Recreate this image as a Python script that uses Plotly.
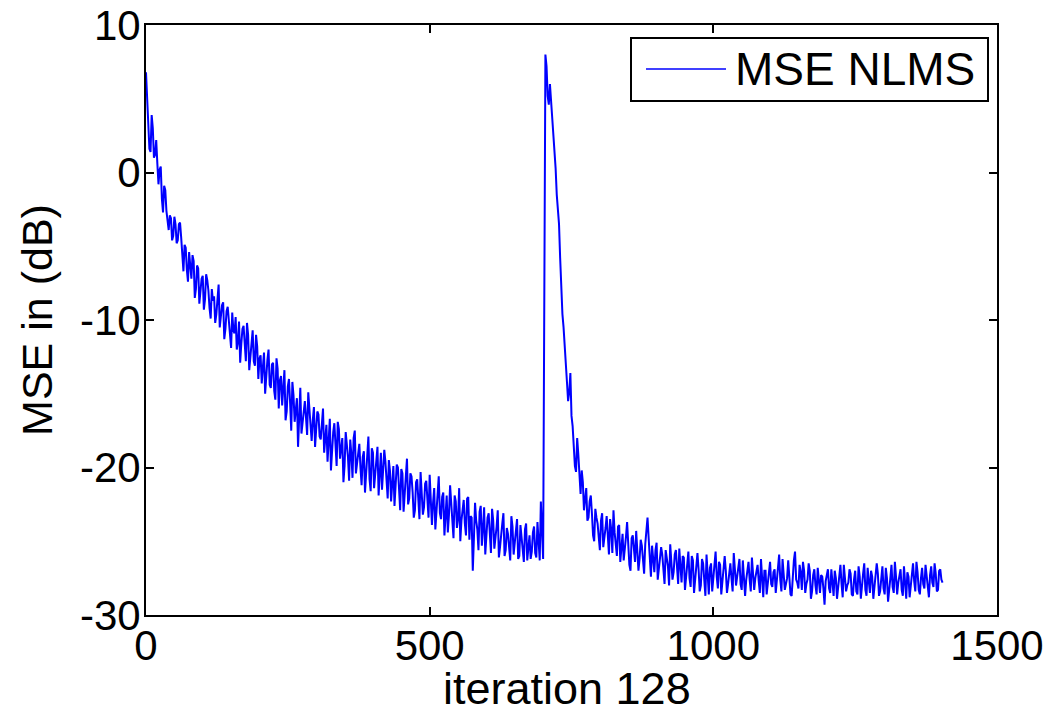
import plotly.graph_objects as go

# MSE (dB), first adaptation run: samples at iterations 0, 4, 8, ...
seg1_start = 0
seg1_mse = [
    6.8, 3.8, 1.4, 3.0, 1.2, 0.6, 0.2, -1.8, -0.9, -2.6,
    -3.9, -3.1, -4.3, -3.5, -4.6, -3.4, -5.8, -4.9, -6.6, -5.4,
    -7.2, -6.0, -7.9, -6.5, -8.1, -7.0, -8.6, -7.3, -9.2, -7.9,
    -8.4, -9.6, -7.6, -9.9, -8.8, -10.6, -9.1, -11.2, -9.5, -10.9,
    -12.0, -10.1, -11.6, -10.4, -12.8, -11.0, -12.3, -10.7, -13.1, -11.8,
    -12.6, -14.3, -12.2, -13.5, -12.0, -14.6, -12.9, -15.4, -13.3, -14.1,
    -15.8, -13.4, -16.2, -14.0, -17.5, -15.1, -16.0, -18.6, -14.6, -16.9,
    -15.5, -17.8, -16.1, -18.2, -15.9, -17.3, -16.4, -18.1, -16.0, -17.6,
    -19.6, -16.7, -18.4, -17.0, -19.9, -17.4, -18.8, -21.0, -17.6, -19.3,
    -18.1, -20.7, -17.5, -19.6, -18.4, -21.2, -18.9, -20.3, -17.9, -21.6,
    -19.0, -20.6, -18.6, -20.1, -21.5, -18.8, -20.9, -19.5, -22.3, -19.9,
    -21.3, -20.0, -22.9, -20.4, -21.8, -19.4, -22.1, -20.6, -23.4, -21.0,
    -22.4, -20.3, -23.2, -21.1, -22.0, -20.5, -23.9, -21.4, -22.8, -20.6,
    -23.5, -21.7, -22.6, -24.4, -21.2, -23.0, -21.9, -24.1, -21.4, -23.6,
    -22.2, -24.6, -22.0, -23.3, -27.0, -22.4, -24.2, -23.0, -25.3, -22.7,
    -24.5, -23.1, -25.8, -23.6, -24.9, -22.9, -25.4, -23.8, -26.0, -24.1,
    -25.2, -23.3, -25.9, -24.4, -26.2, -23.9, -25.5, -24.2, -26.3, -24.6,
    -25.7, -24.0, -26.1, -24.8, -22.3, -26.2,
]
# first run, in-between samples at iterations 2, 6, 10, ...
seg1_mid_start = 2
seg1_mid_mse = [
    5.0, 1.6, 3.9, 1.0, 2.2, -0.8, 0.4, -2.7, -1.2, -3.5,
    -2.9, -4.6, -3.0, -4.8, -3.5, -4.4, -6.7, -5.1, -7.4, -6.1,
    -5.6, -8.5, -6.3, -8.9, -7.2, -9.3, -6.9, -8.0, -9.9, -8.7,
    -10.2, -8.3, -10.5, -9.0, -11.3, -9.4, -10.0, -11.9, -10.7, -9.8,
    -11.5, -12.9, -10.6, -11.9, -10.2, -13.4, -11.6, -12.8, -11.0, -14.0,
    -12.4, -13.2, -15.0, -12.7, -14.4, -13.0, -14.8, -12.6, -16.0, -13.8,
    -14.9, -16.8, -14.5, -15.6, -14.2, -16.9, -15.3, -16.5, -17.7, -15.8,
    -16.6, -14.9, -17.5, -16.8, -18.6, -16.2, -17.9, -17.0, -19.0, -17.1,
    -18.2, -20.2, -17.6, -18.6, -16.9, -19.4, -18.0, -19.9, -18.3, -20.9,
    -19.1, -18.0, -20.4, -18.9, -20.0, -19.3, -21.7, -19.5, -20.8, -18.7,
    -21.4, -19.8, -21.9, -19.0, -20.3, -19.6, -22.1, -20.2, -20.8, -22.6,
    -19.8, -21.6, -20.1, -23.0, -21.2, -22.5, -20.4, -21.7, -22.9, -20.8,
    -23.5, -21.6, -22.7, -20.9, -23.4, -21.8, -22.4, -24.2, -21.5, -23.1,
    -22.0, -24.6, -21.9, -23.2, -22.5, -24.8, -22.3, -23.5, -25.0, -22.6,
    -23.8, -22.1, -24.9, -23.4, -24.8, -23.6, -25.6, -22.6, -24.1, -25.9,
    -23.4, -24.7, -22.8, -25.5, -24.0, -26.1, -24.3, -23.1, -25.6, -24.5,
    -26.3, -24.0, -25.1, -23.5, -26.0, -24.7, -26.4, -23.8, -25.3, -26.2,
    -24.4, -25.8, -23.7, -26.3, -24.5,
]

# MSE (dB) after the system change: samples at iterations 704, 708, ...
seg2_start = 704
seg2_mse = [
    8.0, 5.2, 6.0, 3.9, 1.0, -1.5, -3.5, -8.4, -10.5, -12.8,
    -15.5, -13.6, -17.2, -19.9, -18.0, -21.1, -20.2, -22.9, -21.4, -23.4,
    -21.9, -24.6, -22.8, -23.8, -25.6, -23.1, -24.9, -23.3, -25.9, -24.2,
    -22.9, -25.3, -24.0, -26.4, -24.5, -25.6, -23.7, -26.6, -24.8, -25.9,
    -24.3, -27.0, -24.9, -26.1, -25.2, -23.4, -26.5, -25.3, -27.1, -25.1,
    -26.8, -25.4, -27.3, -25.6, -26.7, -25.2, -27.6, -25.9, -26.9, -25.5,
    -27.8, -26.1, -27.2, -25.7, -28.1, -26.3, -27.4, -25.8, -28.4, -26.2,
    -27.6, -25.9, -28.6, -26.5, -27.3, -25.7, -28.2, -26.6, -27.8, -26.0,
    -28.5, -26.9, -27.5, -25.8, -28.0, -26.7, -27.9, -26.3, -28.7, -26.8,
    -27.6, -26.1, -28.3, -26.9, -27.7, -26.2, -28.8, -27.0, -27.8, -26.4,
    -28.1, -26.9, -27.5, -25.9, -28.4, -27.1, -27.9, -26.3, -28.6, -27.2,
    -25.7, -27.8, -26.6, -28.3, -27.0, -27.9, -26.5, -28.9, -27.3, -28.0,
    -26.8, -28.5, -27.4, -29.3, -27.1, -28.2, -26.9, -28.7, -27.5, -28.1,
    -26.6, -28.8, -27.3, -28.0, -26.9, -28.6, -27.6, -28.4, -26.7, -28.9,
    -27.2, -28.3, -26.8, -28.5, -27.4, -28.0, -26.5, -28.7, -27.3, -28.2,
    -26.8, -29.1, -27.5, -28.1, -26.4, -28.6, -27.2, -28.3, -26.7, -28.9,
    -27.4, -27.9, -26.5, -28.4, -27.1, -28.6, -26.8, -28.2, -27.3, -28.8,
    -26.7, -28.1, -27.2, -28.3, -26.9, -27.8,
]
# second run, in-between samples at iterations 706, 710, ...
seg2_mid_start = 706
seg2_mid_mse = [
    7.2, 4.6, 4.9, 2.4, 0.3, -2.6, -5.8, -9.6, -12.0, -14.2,
    -14.9, -16.5, -18.4, -20.3, -19.1, -21.8, -21.0, -22.1, -23.6, -22.3,
    -23.1, -25.0, -23.4, -24.7, -23.6, -25.4, -24.1, -24.6, -23.5, -25.8,
    -24.4, -26.0, -23.9, -25.2, -26.3, -24.7, -25.7, -27.0, -24.6, -26.4,
    -25.5, -26.2, -25.3, -27.2, -24.5, -24.8, -27.4, -26.0, -25.6, -27.6,
    -26.2, -25.9, -27.9, -26.3, -28.0, -26.4, -27.1, -25.6, -27.9, -26.8,
    -26.0, -28.3, -26.6, -27.5, -26.0, -28.5, -27.0, -26.9, -28.0, -26.5,
    -28.7, -27.1, -26.8, -28.4, -26.9, -27.4, -26.4, -28.6, -27.2, -27.0,
    -27.9, -26.5, -28.4, -27.0, -27.4, -26.2, -28.3, -27.3, -27.6, -26.4,
    -28.4, -27.0, -27.5, -26.6, -28.5, -27.4, -27.0, -28.6, -26.8, -27.9,
    -27.1, -28.5, -26.7, -27.6, -26.2, -28.3, -27.5, -27.3, -28.7, -26.3,
    -27.6, -28.2, -27.1, -26.4, -28.5, -27.6, -27.0, -28.4, -26.9, -28.6,
    -27.6, -27.3, -28.2, -27.7, -26.9, -28.5, -27.6, -27.0, -28.9, -27.4,
    -27.9, -26.6, -28.4, -27.8, -27.2, -28.7, -27.0, -28.6, -27.4, -27.8,
    -26.5, -28.7, -27.7, -27.0, -28.9, -27.6, -27.2, -28.4, -26.7, -28.6,
    -27.5, -27.9, -26.6, -28.5, -27.4, -27.8, -26.9, -28.7, -27.6, -27.1,
    -28.8, -27.0, -27.7, -26.4, -28.3, -27.5, -27.9, -26.6, -28.1, -27.3,
    -27.8, -26.5, -28.4, -27.0, -27.6,
]
step = 4

x_ticks = [0, 500, 1000, 1500]
y_ticks = [-30, -20, -10, 0, 10]
series_name = "MSE NLMS"
x_title = "iteration 128"
y_title = "MSE in (dB)"


def with_iters(start, values):
    return [(start + step * i, v) for i, v in enumerate(values)]


pts = sorted(with_iters(seg1_start, seg1_mse) + with_iters(seg1_mid_start, seg1_mid_mse)
             + with_iters(seg2_start, seg2_mse) + with_iters(seg2_mid_start, seg2_mid_mse))
iters = [p[0] for p in pts]
mse = [p[1] for p in pts]

FONT = "Liberation Sans, Arial, sans-serif"
PLOT_H = 590.0
PLOT_W = 851.0

fig = go.Figure()
fig.add_trace(go.Scatter(x=iters, y=mse, mode="lines", name=series_name,
                         line=dict(color="#0000FF", width=2), showlegend=False))

axis_common = dict(showline=True, linecolor="black", linewidth=2, mirror="ticks",
                   ticks="inside", ticklen=8, tickwidth=1.5, tickcolor="black",
                   showgrid=False, zeroline=False, automargin=False,
                   tickfont=dict(family=FONT, size=42, color="black"))

fig.update_layout(
    width=1056, height=710,
    margin=dict(l=146, r=59, t=25, b=95),
    paper_bgcolor="white", plot_bgcolor="white",
    xaxis=dict(range=[0, 1500], tickvals=x_ticks, ticktext=[str(v) for v in x_ticks],
               ticklabelstandoff=-7, **axis_common),
    yaxis=dict(range=[-30, 10.001], tickvals=y_ticks, ticktext=[str(v) for v in y_ticks],
               ticklabelstandoff=-5,
               title=dict(text=y_title, font=dict(family=FONT, size=43, color="black"), standoff=14),
               **axis_common),
)

# x-axis title
fig.add_annotation(xref="paper", yref="paper", x=(567 - 146) / PLOT_W, y=(615 - 688) / PLOT_H,
                   text=x_title, showarrow=False, xanchor="center", yanchor="middle",
                   borderpad=0, font=dict(family=FONT, size=45, color="black"))

# Legend box (drawn manually to match the long legend line)
fig.add_shape(type="rect", xref="paper", yref="paper",
              x0=(631 - 146) / PLOT_W, x1=(988 - 146) / PLOT_W,
              y0=(615 - 101) / PLOT_H, y1=(615 - 38) / PLOT_H,
              line=dict(color="black", width=2), fillcolor="white", layer="above")
fig.add_shape(type="line", xref="paper", yref="paper",
              x0=(646 - 146) / PLOT_W, x1=(726 - 146) / PLOT_W,
              y0=(615 - 69) / PLOT_H, y1=(615 - 69) / PLOT_H,
              line=dict(color="#0000FF", width=1.5), layer="above")
fig.add_annotation(xref="paper", yref="paper", x=(733 - 146) / PLOT_W, y=(615 - 69) / PLOT_H,
                   text=series_name, showarrow=False, xanchor="left", yanchor="middle",
                   font=dict(family=FONT, size=46, color="black"))

fig.write_html("out.html")
